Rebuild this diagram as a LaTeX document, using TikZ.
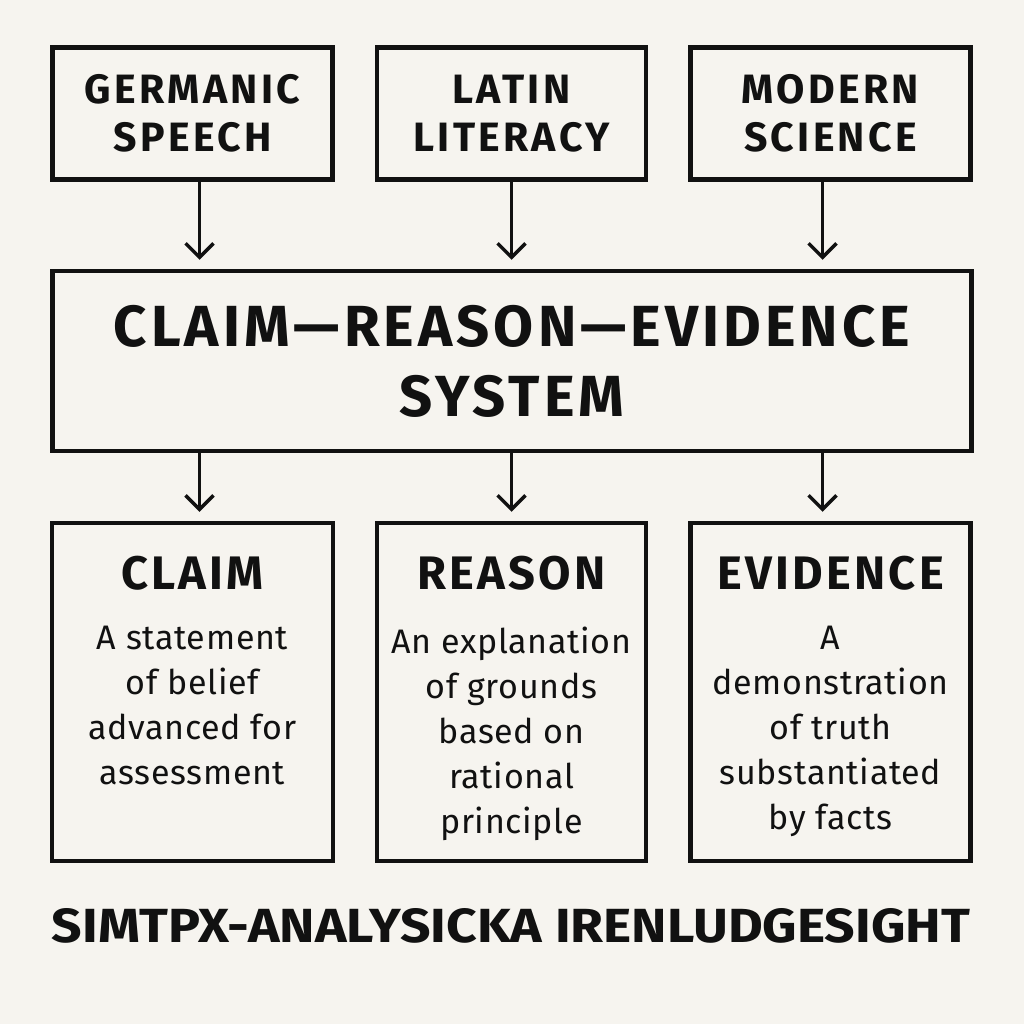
\documentclass[tikz,border=0pt]{standalone}
\usepackage{fontspec}
\usepackage{graphicx}
\setmainfont{Fira Sans}
\usetikzlibrary{arrows.meta, positioning}
\definecolor{paper}{HTML}{F6F4EF}
\definecolor{ink}{HTML}{111111}

\begin{document}
\begin{tikzpicture}[
    x=1pt, y=-1pt,
    every node/.style={text=ink, align=center},
    srcbox/.style={rectangle, draw=ink, line width=4.5pt, minimum height=132pt, inner sep=0pt, font=\fontsize{41}{48}\selectfont\bfseries\addfontfeatures{LetterSpace=8}},
    sysbox/.style={rectangle, draw=ink, line width=4.5pt, minimum width=919pt, minimum height=180pt, inner sep=0pt, font=\fontsize{58}{70}\selectfont\bfseries\addfontfeatures{LetterSpace=7}},
    partbox/.style={rectangle, draw=ink, line width=4.5pt, minimum height=338pt, inner sep=0pt},
    parttitle/.style={inner sep=0pt, font=\fontsize{47}{56}\selectfont\bfseries\addfontfeatures{LetterSpace=7}},
    partdesc/.style={inner sep=0pt, font=\fontsize{34}{45}\selectfont\addfontfeatures{LetterSpace=2}},
    arrow/.style={-{Straight Barb[length=14pt, width=28pt]}, line width=3.5pt, draw=ink, shorten >=9pt}
]
\fill[paper] (0,0) rectangle (1024,1024);
\useasboundingbox (0,0) rectangle (1024,1024);

% Sources
\node (ger) [srcbox, minimum width=280pt] at (192.5,113.5) {GERMANIC\\SPEECH};
\node (lat) [srcbox, minimum width=269pt] at (511.5,113.5) {LATIN\\LITERACY};
\node (mod) [srcbox, minimum width=280pt] at (830.5,113.5) {MODERN\\SCIENCE};

% System
\node (crs) [sysbox] at (512,361) {CLAIM—REASON—EVIDENCE\\SYSTEM};

% Parts
\node (claim) [partbox, minimum width=281pt] at (192.5,692) {};
\node (reason) [partbox, minimum width=269pt] at (511.5,692) {};
\node (evid) [partbox, minimum width=280pt] at (830.5,692) {};

\node (claimt) [parttitle, below=35pt of claim.north] {CLAIM};
\node (reasont) [parttitle, below=35pt of reason.north] {REASON};
\node (evidt) [parttitle, below=35pt of evid.north] {EVIDENCE};

\node (claimd) [partdesc, below=36pt of claimt] {A statement\\of belief\\advanced for\\assessment};
\node (reasond) [partdesc, below=36pt of reasont] {An explanation\\of grounds\\based on\\rational\\principle};
\node (evidd) [partdesc, below=36pt of evidt] {A\\demonstration\\of truth\\substantiated\\by facts};

% Arrows
\coordinate (g1) at ([xshift=7pt]ger.south);
\coordinate (l1) at (lat.south);
\coordinate (m1) at ([xshift=-8pt]mod.south);
\draw [arrow] (g1) -- (g1 |- crs.north);
\draw [arrow] (l1) -- (l1 |- crs.north);
\draw [arrow] (m1) -- (m1 |- crs.north);

\coordinate (g2) at (g1 |- crs.south);
\coordinate (l2) at (l1 |- crs.south);
\coordinate (m2) at (m1 |- crs.south);
\draw [arrow] (g2) -- (g2 |- claim.north);
\draw [arrow] (l2) -- (l2 |- reason.north);
\draw [arrow] (m2) -- (m2 |- evid.north);

% Footer
\node (footer) at (511,926) {\resizebox{918pt}{34pt}{\bfseries SIMTPX-ANALYSICKA IRENLUDGESIGHT}};

\end{tikzpicture}
\end{document}
